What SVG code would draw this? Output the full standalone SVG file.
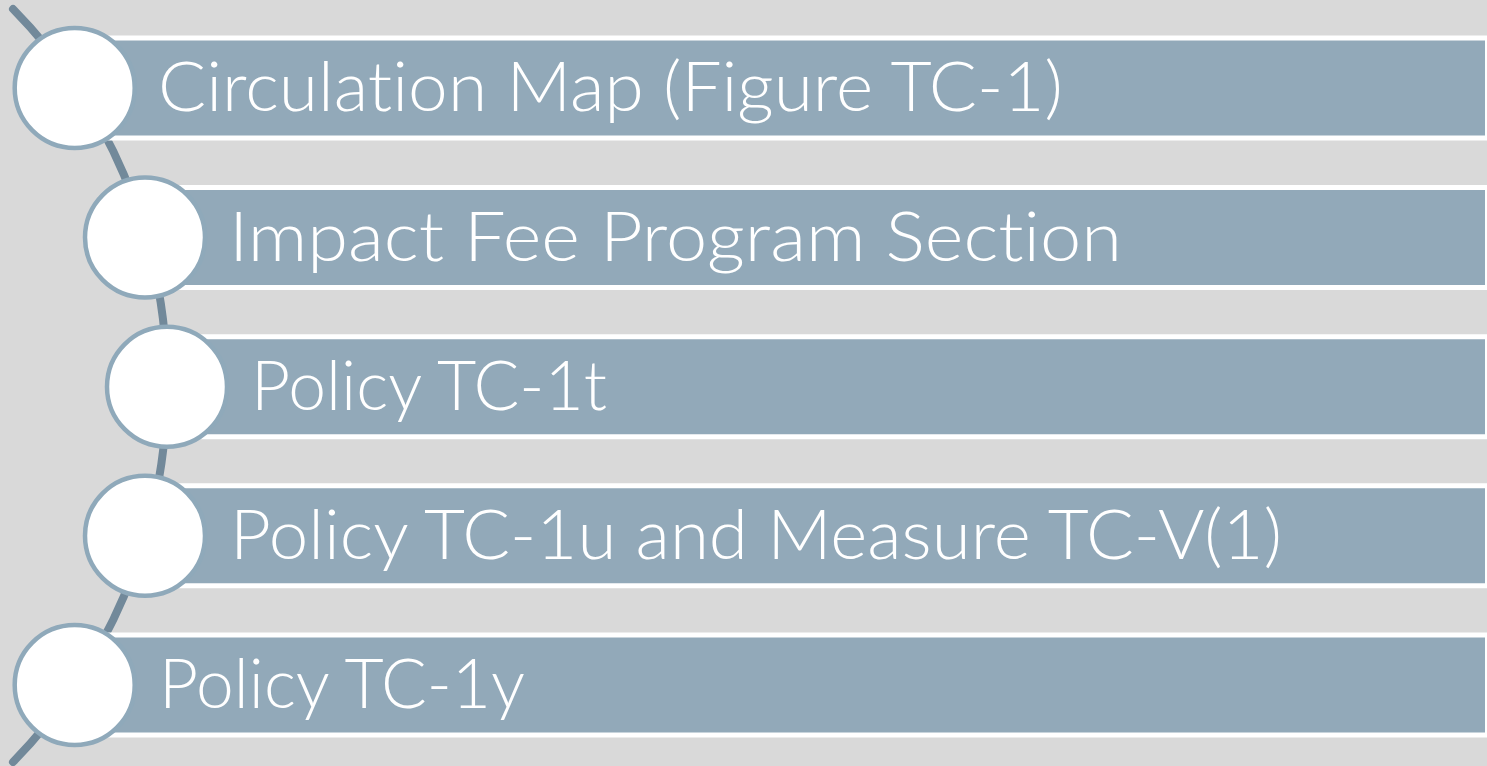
<svg xmlns="http://www.w3.org/2000/svg" width="1487" height="766" viewBox="0 0 1487 766">
<style>
.bar{fill:#92a9b9;stroke:#ffffff;stroke-width:5}
.dot{fill:#ffffff;stroke:#8fa9ba;stroke-width:4.5}
.lbl{font-family:Lato,"Liberation Sans",sans-serif;font-size:68px;font-weight:300;fill:#ffffff;font-variant-ligatures:none;font-feature-settings:"liga" 0,"clig" 0}
.arc{fill:none;stroke:#72899a;stroke-width:8;stroke-linecap:round}
</style>
<rect width="1487" height="766" fill="#d9d9d9"/>
<g id="connectors">
<path class="arc" d="M 13 9 A 537.2 537.2 0 0 1 13 762"/>
</g>
<g id="node1">
<rect class="bar" x="75" y="38" width="1412.5" height="100"/>
<circle class="dot" cx="74.7" cy="88" r="60"/>
<text class="lbl" x="158" y="111" textLength="905" lengthAdjust="spacingAndGlyphs">Circulation Map (Figure TC-1)</text>
</g>
<g id="node2">
<rect class="bar" x="145" y="187.5" width="1342.5" height="100"/>
<circle class="dot" cx="145" cy="237.5" r="60"/>
<text class="lbl" x="229" y="260.5" textLength="893" lengthAdjust="spacingAndGlyphs">Impact Fee Program Section</text>
</g>
<g id="node3">
<rect class="bar" x="167" y="336.75" width="1320.5" height="100"/>
<circle class="dot" cx="167" cy="386.75" r="60"/>
<text class="lbl" x="251" y="409.75" textLength="356" lengthAdjust="spacingAndGlyphs">Policy TC-1t</text>
</g>
<g id="node4">
<rect class="bar" x="145" y="485.75" width="1342.5" height="100"/>
<circle class="dot" cx="145" cy="535.75" r="60"/>
<text class="lbl" x="230" y="558.75" textLength="1052" lengthAdjust="spacingAndGlyphs">Policy TC-1u and Measure TC-V(1)</text>
</g>
<g id="node5">
<rect class="bar" x="75" y="635" width="1412.5" height="100"/>
<circle class="dot" cx="74.7" cy="685" r="60"/>
<text class="lbl" x="159" y="708" textLength="366" lengthAdjust="spacingAndGlyphs">Policy TC-1y</text>
</g>
</svg>
